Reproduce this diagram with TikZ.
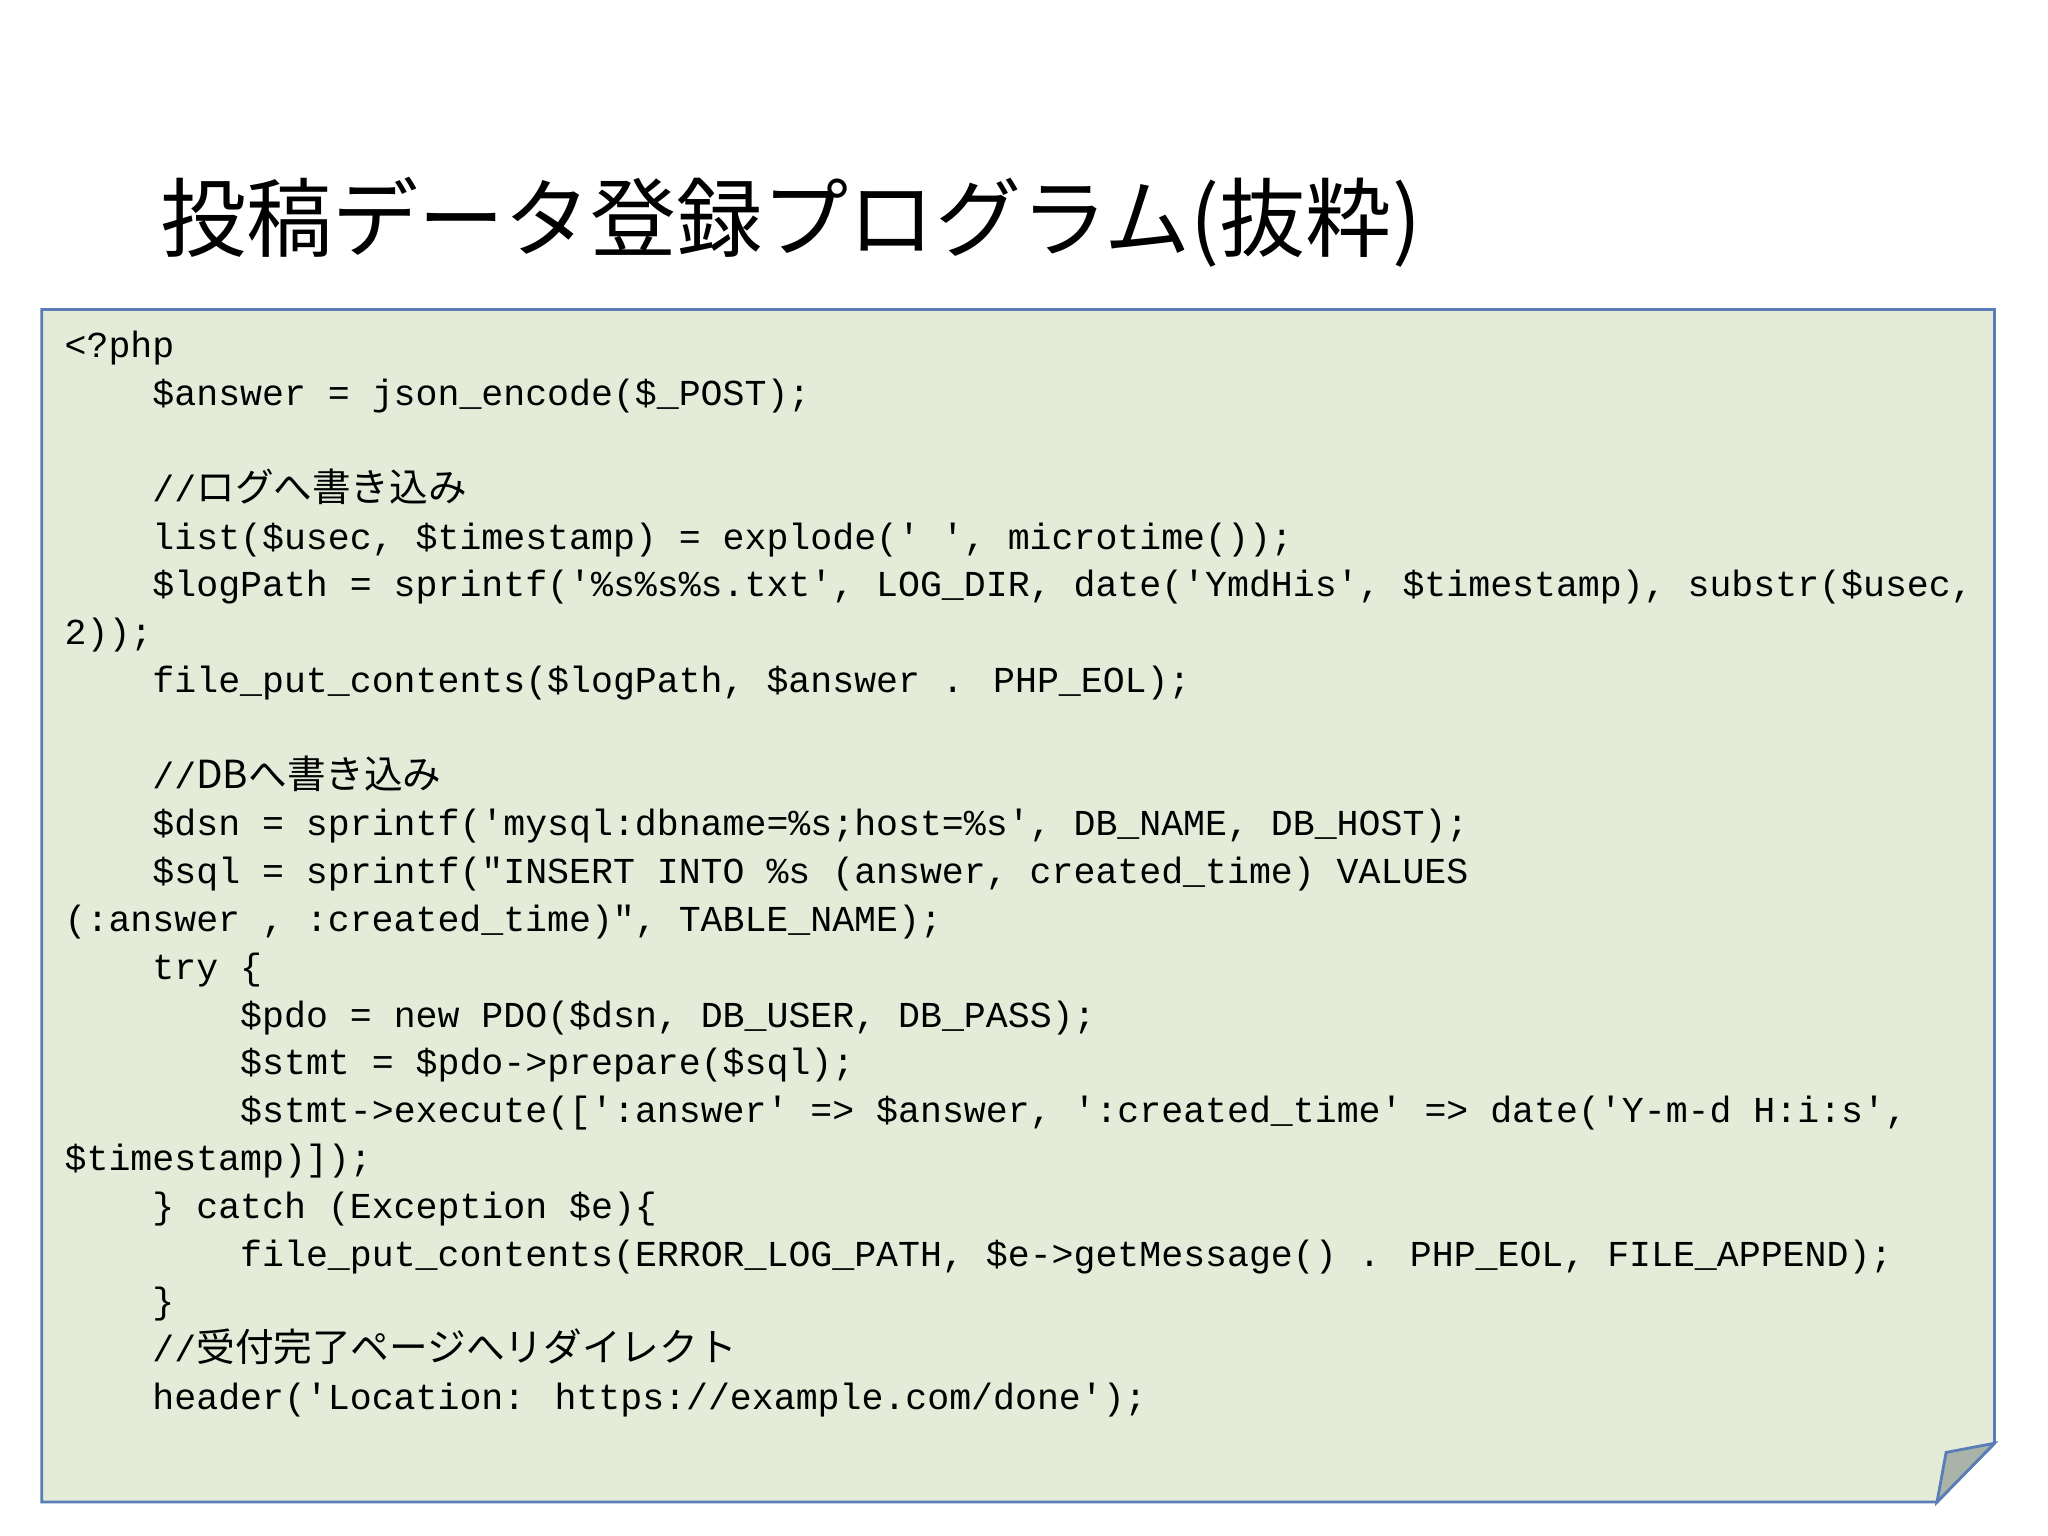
\documentclass[tikz,border=0pt]{standalone}
\usepackage{fontspec}
\newfontfamily\code{Liberation Mono}
\newfontfamily\cjk{Noto Sans CJK JP}
\setmainfont{Noto Sans CJK JP}
\definecolor{paper}{HTML}{E4ECD9}
\definecolor{edge}{HTML}{5A7DB5}
\definecolor{foldc}{HTML}{A9B3A8}
\begin{document}
\begin{tikzpicture}[x=0.01306cm,y=-0.01306cm,
  ln/.style={anchor=base west,inner sep=0,font=\code\fontsize{10.4pt}{13.6pt}\selectfont},
  jp/.style={font=\cjk\fontsize{11pt}{13.6pt}\selectfont}]
\useasboundingbox (0,0) rectangle (1568,1176);
\fill[white] (0,0) rectangle (1568,1176);
\node[anchor=base west,inner sep=0,font=\cjk\fontsize{24.5pt}{28pt}\selectfont] (title) at (122,192) {投稿データ登録プログラム(抜粋)};
\draw[edge,line width=0.8pt,fill=paper] (32,237) -- (1527,237) -- (1527,1105) -- (1483,1150) -- (32,1150) -- cycle;
\draw[edge,line width=0.8pt,fill=foldc] (1483,1150) -- (1490,1112) -- (1527,1105) -- cycle;
\def\L#1#2#3{\node[ln] (l#1) at ({49+16.8*#2},{274+36.6*#1}) {#3};}
\L{0}{0}{<?php}
\L{1}{4}{\$answer = json\_encode(\$\_POST);}
\L{3}{4}{//{\cjk\fontsize{11pt}{13.6pt}\selectfont ログへ書き込み}}
\L{4}{4}{list(\$usec, \$timestamp) = explode(' ', microtime());}
\L{5}{4}{\$logPath = sprintf('\%s\%s\%s.txt', LOG\_DIR, date('YmdHis', \$timestamp), substr(\$usec,}
\L{6}{0}{2));}
\L{7}{4}{file\_put\_contents(\$logPath, \$answer . PHP\_EOL);}
\L{9}{4}{//{\cjk\fontsize{11pt}{13.6pt}\selectfont DBへ書き込み}}
\L{10}{4}{\$dsn = sprintf('mysql:dbname=\%s;host=\%s', DB\_NAME, DB\_HOST);}
\L{11}{4}{\$sql = sprintf("INSERT INTO \%s (answer, created\_time) VALUES}
\L{12}{0}{(:answer , :created\_time)", TABLE\_NAME);}
\L{13}{4}{try \{}
\L{14}{8}{\$pdo = new PDO(\$dsn, DB\_USER, DB\_PASS);}
\L{15}{8}{\$stmt = \$pdo->prepare(\$sql);}
\L{16}{8}{\$stmt->execute([':answer' => \$answer, ':created\_time' => date('Y-m-d H:i:s',}
\L{17}{0}{\$timestamp)]);}
\L{18}{4}{\} catch (Exception \$e)\{}
\L{19}{8}{file\_put\_contents(ERROR\_LOG\_PATH, \$e->getMessage() . PHP\_EOL, FILE\_APPEND);}
\L{20}{4}{\}}
\L{21}{4}{//{\cjk\fontsize{11pt}{13.6pt}\selectfont 受付完了ページへリダイレクト}}
\L{22}{4}{header('Location: https://example.com/done');}
\end{tikzpicture}
\end{document}
